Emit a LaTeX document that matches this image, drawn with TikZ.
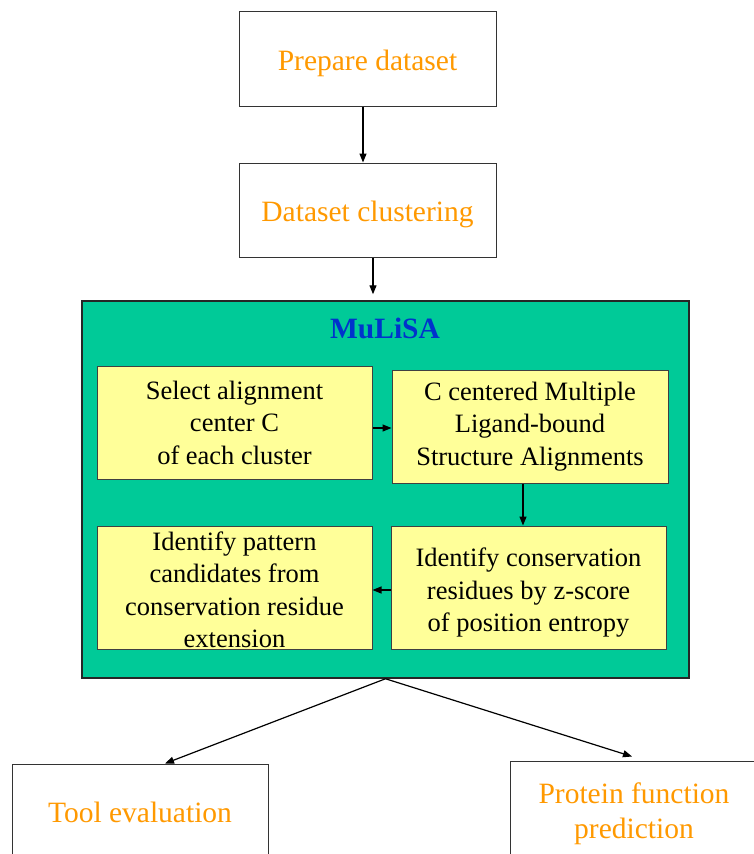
\documentclass[tikz,border=0pt]{standalone}
\usepackage{fontspec}
\setmainfont{Liberation Serif}
\usetikzlibrary{arrows.meta}
\definecolor{mgreen}{RGB}{0,202,152}
\definecolor{myellow}{RGB}{255,255,153}
\definecolor{morange}{RGB}{255,153,0}
\definecolor{mblue}{RGB}{0,51,204}
\tikzset{
  outbox/.style={draw=black!80, line width=1pt, fill=white, inner sep=0pt},
  otext/.style={text=morange, font=\fontsize{29.5}{35}\selectfont, align=center, inner sep=0pt},
  stepbox/.style={draw=black!75, line width=1pt, fill=myellow, inner sep=0pt},
  stext/.style={font=\fontsize{26.5}{32.5}\selectfont, align=center, inner sep=0pt},
  arr/.style={-{Triangle[length=9pt,width=7pt]}, line width=1.2pt},
}
\begin{document}
\begin{tikzpicture}[x=1pt,y=-1pt]
\useasboundingbox (0,0) rectangle (754,854);
\clip (0,0) rectangle (754,854);
\fill[white] (0,0) rectangle (754,854);

% pipeline stages outside the MuLiSA block
\node[outbox, minimum width=257pt, minimum height=95pt] (prep) at (367.5,58.5) {};
\node[otext] (prepT) at ([yshift=-5pt]prep.center) {Prepare dataset};
\node[outbox, minimum width=257pt, minimum height=94pt] (clus) at (367.5,210) {};
\node[otext] (clusT) at ([yshift=-4pt]clus.center) {Dataset clustering};

% MuLiSA block
\node[draw=black!85, line width=1.5pt, fill=mgreen, minimum width=607pt,
      minimum height=377pt, inner sep=0pt] (mulisa) at (385.5,489.5) {};
\node[font=\bfseries\fontsize{29.5}{35}\selectfont, text=mblue] (title) at (385,328) {MuLiSA};

\node[stepbox, minimum width=275pt, minimum height=113pt] (sel) at (234.5,422.5) {};
\node[stext] (selT) at (sel.center) {Select alignment\\center C\\of each cluster};
\node[stepbox, minimum width=276pt, minimum height=113pt] (align) at (530,426.5) {};
\node[stext] (alignT) at (align.center) {C centered Multiple\\Ligand-bound\\Structure Alignments};
\node[stepbox, minimum width=275pt, minimum height=123pt] (pat) at (234.5,587.5) {};
\node[stext] (patT) at ([yshift=-2.5pt]pat.center)
  {Identify pattern\\candidates from\\conservation residue\\extension};
\node[stepbox, minimum width=275pt, minimum height=123pt] (cons) at (528.5,587.5) {};
\node[stext] (consT) at ([yshift=-5.5pt]cons.center)
  {Identify conservation\\residues by z-score\\of position entropy};

% applications
\node[outbox, minimum width=256pt, minimum height=106pt] (tool) at (140,817) {};
\node[otext] (toolT) at ([yshift=5pt]tool.center) {Tool evaluation};
\node[outbox, minimum width=248pt, minimum height=109pt] (prot) at (634,815.5) {};
\node[otext] (protT) at ([yshift=2pt]prot.center) {Protein function\\prediction};

% connectors
\draw[arr] ([xshift=-4.5pt]prep.south) -- ([xshift=-4.5pt]clus.north);
\draw[arr] ([xshift=5.5pt]clus.south) -- ([xshift=-12.5pt,yshift=6pt]mulisa.north);
\draw[arr] ([yshift=-5.5pt]sel.east) -- ([yshift=-5.5pt]sel.east -| align.west);
\draw[arr] ([xshift=-7pt]align.south) -- ([xshift=-7pt]align.south |- cons.north);
\draw[arr] ([yshift=-2.5pt]cons.west) -- ([yshift=-2.5pt]cons.west -| pat.east);
\draw[arr] (mulisa.south) -- ([xshift=25pt]tool.north);
\draw[arr] (mulisa.south) -- ([xshift=-2pt,yshift=4pt]prot.north);
\end{tikzpicture}
\end{document}
